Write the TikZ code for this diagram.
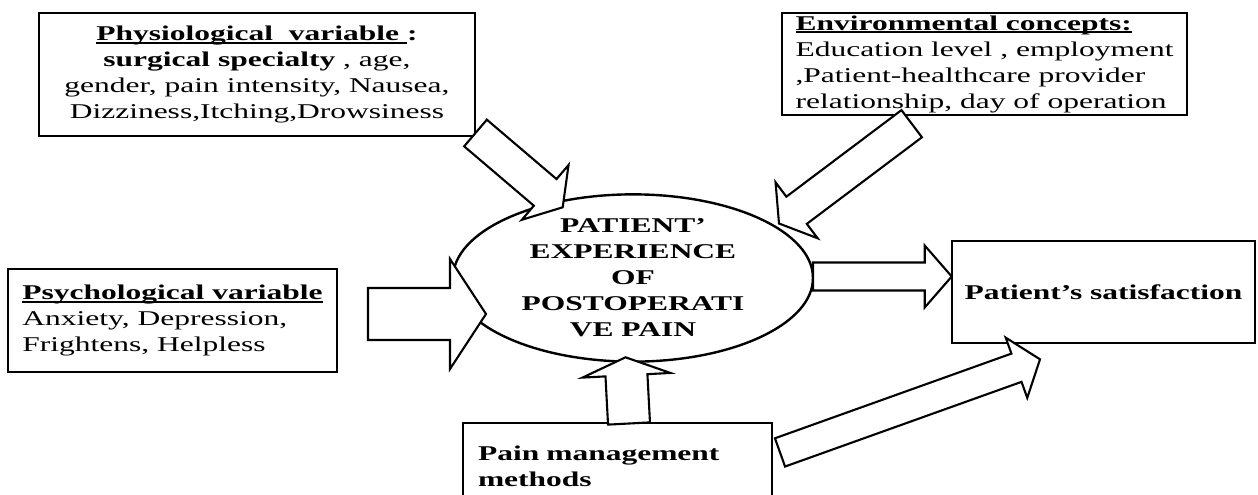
\documentclass[tikz,border=0pt]{standalone}
\usepackage{fontspec}
\setmainfont{Liberation Serif}[FakeStretch=1.5]
\newcommand\uln[1]{\setbox0\hbox{#1}\rlap{\rule[-3pt]{\wd0}{1.6pt}}\box0}
\usetikzlibrary{shapes.geometric,calc}
\tikzset{
  box/.style={draw, line width=2.6pt, inner sep=0pt, font=\fontsize{21}{26}\selectfont},
  barrow/.style={draw, fill=white, line width=2.1pt, line join=miter},
}
% #1 tail, #2 tip, #3 shaft half width, #4 head half width, #5 head length
\newcommand\blockarrow[5]{%
  \coordinate (#1#2h) at ($(#2)!#5!(#1)$);
  \draw[barrow] ($(#1)!#3!90:(#2)$) -- ($(#1#2h)!#3!90:(#2)$) -- ($(#1#2h)!#4!90:(#2)$)
    -- (#2) -- ($(#1#2h)!#4!-90:(#2)$) -- ($(#1#2h)!#3!-90:(#2)$) -- ($(#1)!#3!-90:(#2)$) -- cycle;}
\begin{document}
\begin{tikzpicture}[x=1pt,y=-1pt]
\useasboundingbox (0,0) rectangle (1258,495);
\fill[white] (0,0) rectangle (1258,495);

\node[box, minimum width=436pt, minimum height=123pt, align=center] (phys) at (257,74.5)
  {\textbf{\uln{Physiological\ \ variable }:}\\
   \textbf{surgical specialty} , age,\\
   gender, pain intensity, Nausea,\\
   Dizziness,Itching,Drowsiness};

\node[box, minimum width=405pt, minimum height=102pt, align=left] (env) at (984.5,64)
  {\textbf{\uln{Environmental concepts:}}\\
   Education level , employment\\
   ,Patient-healthcare provider\\
   relationship, day of operation};

\node[box, minimum width=329pt, minimum height=103pt, align=left] (psy) at (172.5,320.5)
  {\textbf{\uln{Psychological variable}}\\
   Anxiety, Depression,\\
   Frightens, Helpless};

\node[box, minimum width=303pt, minimum height=102pt] (sat) at (1103.5,292)
  {\textbf{Patient’s satisfaction}};

\node[box, minimum width=309pt, minimum height=87pt, align=left, text width=279pt] (pain) at (617.5,466.5)
  {\textbf{Pain management}\\ \textbf{methods}};

\node[draw, ellipse, line width=2.4pt, minimum width=360pt, minimum height=160pt, inner sep=0pt,
  align=center, font=\bfseries\fontsize{21}{26}\selectfont] (exp) at (633,278)
  {PATIENT’\\EXPERIENCE\\OF\\POSTOPERATI\\VE PAIN};

% arrow ends
\coordinate (aAt) at (475.5,133);  \coordinate (aAp) at (562.7,207.3);
\coordinate (aBt) at (911.7,123.7); \coordinate (aBp) at (779,223.5);
\coordinate (aCt) at (368,314);    \coordinate (aCp) at (486,314);
\coordinate (aDt) at (813,276.5);  \coordinate (aDp) at (951.7,276.5);
\coordinate (aEt) at (780,452.4);  \coordinate (aEp) at (1040,359.3);
\coordinate (aFt) at (629,423.5);  \coordinate (aFp) at (625.5,357.3);

\blockarrow{aAt}{aAp}{17.5pt}{36pt}{23pt}
\blockarrow{aBt}{aBp}{17pt}{35pt}{22pt}
\blockarrow{aCt}{aCp}{26pt}{55pt}{36pt}
\blockarrow{aDt}{aDp}{14pt}{31pt}{27pt}
\blockarrow{aEt}{aEp}{15pt}{32pt}{25pt}
\blockarrow{aFt}{aFp}{21pt}{44pt}{18pt}
\end{tikzpicture}
\end{document}
